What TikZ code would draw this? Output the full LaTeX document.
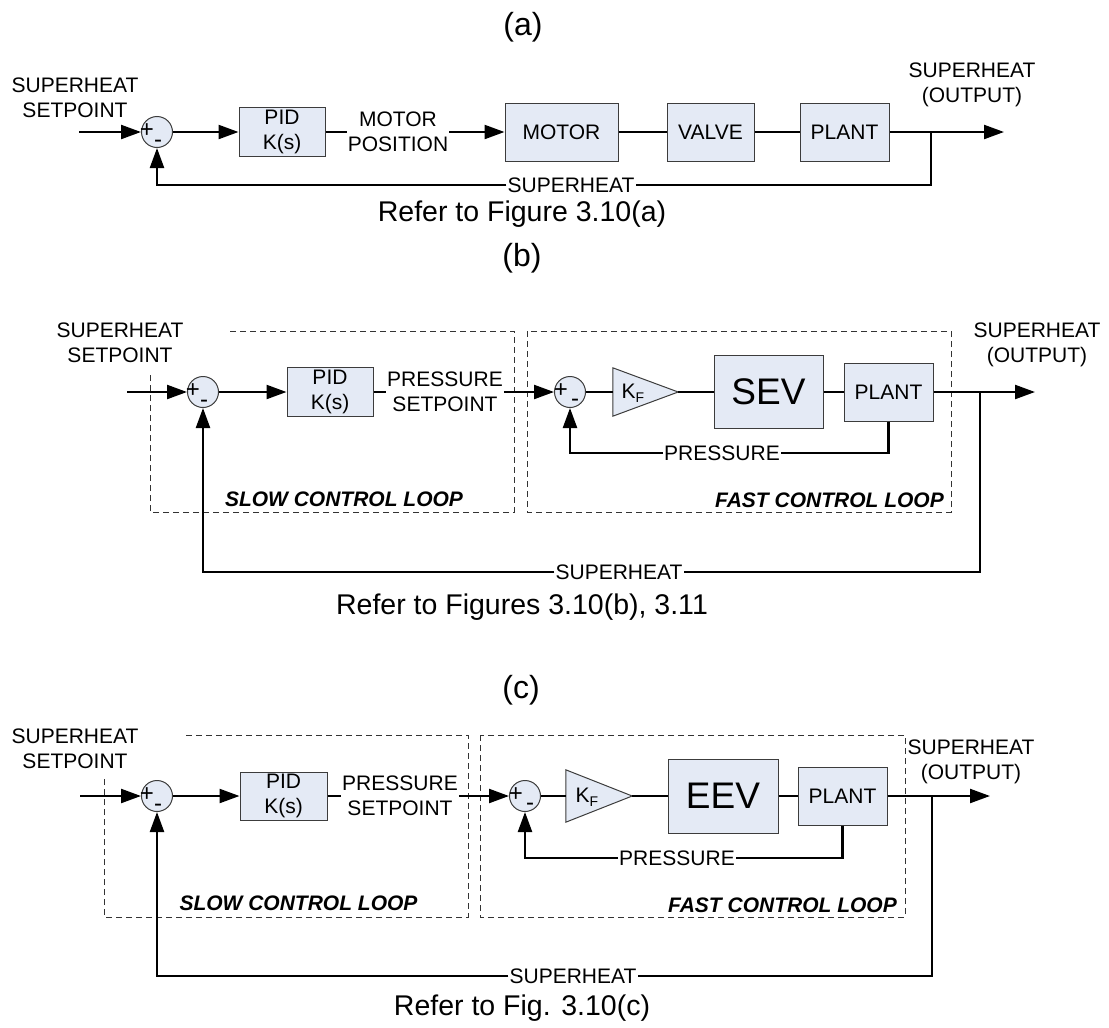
\documentclass[tikz,border=0pt]{standalone}
\usepackage{fontspec}
\setmainfont{Liberation Sans}
\usetikzlibrary{arrows.meta}
\definecolor{boxfill}{RGB}{228,234,245}
\definecolor{boxline}{RGB}{60,60,60}
\newcommand\lblfont{\fontsize{21}{25}\selectfont}
\newcommand\ttlfont{\fontsize{32}{38}\selectfont}
\newcommand\reffont{\fontsize{28.5}{34}\selectfont}
\newcommand\bigfont{\fontsize{37}{44}\selectfont}
\newcommand\loopfont{\fontsize{21}{25}\selectfont\bfseries\itshape}
\newcommand\sgnfont{\fontsize{24}{24}\selectfont}
\begin{document}
\begin{tikzpicture}[x=1pt,y=-1pt,
  sig/.style={line width=2.3pt, black},
  arr/.style={sig, -{Triangle[length=20pt,width=14pt]}},
  blk/.style={draw=boxline, line width=1pt, fill=boxfill, inner sep=0pt, align=center, font=\lblfont},
  sumc/.style={circle, draw=boxline, line width=1pt, fill=boxfill, minimum size=31pt, inner sep=0pt},
  sgn/.style={inner sep=0pt, font=\sgnfont},
  lbl/.style={inner sep=1pt, align=center, font=\lblfont},
  lab/.style={inner sep=1pt, align=center, font=\lblfont},
  title/.style={inner sep=0pt, font=\ttlfont},
  reff/.style={inner sep=0pt, font=\reffont},
  looplbl/.style={inner sep=0pt, font=\loopfont},
  dashbox/.style={draw=black!80, line width=0.9pt, dash pattern=on 6pt off 4pt},
  tri/.style={draw=boxline, line width=1pt, fill=boxfill},
  kfbox/.style={inner sep=0pt}
]
\useasboundingbox (0,0) rectangle (1109,1028);

% ================= (a) =================
\node[title] (ta) at (523,27) {(a)};
\node[lbl] (spa) at (75,97.5) {SUPERHEAT\\SETPOINT};
\coordinate (ina) at (79,132);
\node[sumc] (s1a) at (157,132) {};
\node[sgn] (p1a) at (147,131) {+};
\node[sgn] (m1a) at (158,144) {-};
\node[blk, minimum width=86pt, minimum height=49pt] (pida) at (282,132) {PID\\K(s)};
\node[lab] (mpa) at (398,132) {MOTOR\\POSITION};
\node[blk, minimum width=113pt, minimum height=58pt] (motor) at (561.5,132) {MOTOR};
\node[blk, minimum width=87pt, minimum height=58pt] (valve) at (710.5,132) {VALVE};
\node[blk, minimum width=89pt, minimum height=58pt] (planta) at (844.5,132) {PLANT};
\coordinate (outa) at (1004,132);
\coordinate (bra) at (931,132);
\node[lbl] (outla) at (972,85) {SUPERHEAT\\(OUTPUT)};
\node[lab] (fba) at (571,185) {SUPERHEAT};
\node[reff] (ra) at (522,214) {Refer to Figure 3.10(a)};

\draw[arr] (ina) -- (s1a);
\draw[arr] (s1a) -- (pida);
\draw[sig] (pida.east) -- (mpa.west);
\draw[arr] (mpa.east) -- (motor.west);
\draw[sig] (motor) -- (valve);
\draw[sig] (valve) -- (planta);
\draw[arr] (planta.east) -- (outa);
\draw[sig] (bra) |- (fba.east);
\draw[arr] (fba.west) -| (s1a.south);

% ================= (b) =================
\node[title] (tb) at (522,258) {(b)};
\draw[dashbox] (230,331) -- (514,331) -- (514,512) -- (150,512) -- (150,372);
\draw[dashbox] (527,331) rectangle (951,512);
\node[lbl] (spb) at (120,343) {SUPERHEAT\\SETPOINT};
\coordinate (inb) at (127,392);
\node[sumc] (s1b) at (203,392) {};
\node[sgn] (p1b) at (193,391) {+};
\node[sgn] (m1b) at (204,404) {-};
\node[blk, minimum width=86pt, minimum height=49pt] (pidb) at (330,392) {PID\\K(s)};
\node[lab] (psb) at (445,392) {PRESSURE\\SETPOINT};
\node[sumc] (s2b) at (570,392) {};
\node[sgn] (p2b) at (561,391) {+};
\node[sgn] (m2b) at (575,403) {-};
\node[kfbox, minimum width=65pt, minimum height=48pt] (kfb) at (645.5,392) {};
\draw[tri] (kfb.north west) -- (kfb.east) -- (kfb.south west) -- cycle;
\node[inner sep=0pt, font=\lblfont] (kftb) at (633,393) {K\raisebox{-0.35ex}{\fontsize{14}{14}\selectfont F}};
\node[blk, minimum width=109pt, minimum height=73pt, font=\bigfont] (sev) at (768.5,392) {SEV};
\node[blk, minimum width=89pt, minimum height=58pt] (plantb) at (888.5,392) {PLANT};
\coordinate (outb) at (1035,392);
\coordinate (brb) at (980,392);
\node[lbl] (outlb) at (1037,345) {SUPERHEAT\\(OUTPUT)};
\node[lab] (prb) at (722,453) {PRESSURE};
\node[looplbl] (slb) at (344,499) {SLOW CONTROL LOOP};
\node[looplbl, anchor=east] (flb) at (944,500) {FAST CONTROL LOOP};
\node[lab] (fbb) at (619,572) {SUPERHEAT};
\node[reff] (rb) at (522,607) {Refer to Figures 3.10(b), 3.11};

\draw[arr] (inb) -- (s1b);
\draw[arr] (s1b) -- (pidb);
\draw[sig] (pidb.east) -- (psb.west);
\draw[arr] (psb.east) -- (s2b);
\draw[sig] (s2b) -- (kfb.west);
\draw[sig] (kfb.east) -- (sev.west);
\draw[sig] (sev) -- (plantb);
\draw[arr] (plantb.east) -- (outb);
\draw[sig] (plantb.south) |- (prb.east);
\draw[arr] (prb.west) -| (s2b.south);
\draw[sig] (brb) |- (fbb.east);
\draw[arr] (fbb.west) -| (s1b.south);

% ================= (c) =================
\node[title] (tc) at (521,690) {(c)};
\draw[dashbox] (186,735) -- (468,735) -- (468,917) -- (104,917) -- (104,778);
\draw[dashbox] (480,735) rectangle (905,917);
\node[lbl] (spc) at (75,749) {SUPERHEAT\\SETPOINT};
\coordinate (inc) at (80,796);
\node[sumc] (s1c) at (157,796) {};
\node[sgn] (p1c) at (147,795) {+};
\node[sgn] (m1c) at (158,808) {-};
\node[blk, minimum width=87pt, minimum height=48pt] (pidc) at (283.5,796) {PID\\K(s)};
\node[lab] (psc) at (400,796) {PRESSURE\\SETPOINT};
\node[sumc] (s2c) at (525,796) {};
\node[sgn] (p2c) at (516,795) {+};
\node[sgn] (m2c) at (530,807) {-};
\node[kfbox, minimum width=66pt, minimum height=52pt] (kfc) at (599,796) {};
\draw[tri] (kfc.north west) -- (kfc.east) -- (kfc.south west) -- cycle;
\node[inner sep=0pt, font=\lblfont] (kftc) at (587,797) {K\raisebox{-0.35ex}{\fontsize{14}{14}\selectfont F}};
\node[blk, minimum width=110pt, minimum height=74pt, font=\bigfont] (eev) at (723,796) {EEV};
\node[blk, minimum width=89pt, minimum height=58pt] (plantc) at (842.5,796) {PLANT};
\coordinate (outc) at (990,796);
\coordinate (brc) at (932,796);
\node[lbl] (outlc) at (971,762) {SUPERHEAT\\(OUTPUT)};
\node[lab] (prc) at (677,858) {PRESSURE};
\node[looplbl] (slc) at (298.5,903) {SLOW CONTROL LOOP};
\node[looplbl, anchor=east] (flc) at (897,905) {FAST CONTROL LOOP};
\node[lab] (fbc) at (573,976) {SUPERHEAT};
\node[reff] (rc) at (522,1008) {Refer to Fig. 3.10(c)};

\draw[arr] (inc) -- (s1c);
\draw[arr] (s1c) -- (pidc);
\draw[sig] (pidc.east) -- (psc.west);
\draw[arr] (psc.east) -- (s2c);
\draw[sig] (s2c) -- (kfc.west);
\draw[sig] (kfc.east) -- (eev.west);
\draw[sig] (eev) -- (plantc);
\draw[arr] (plantc.east) -- (outc);
\draw[sig] (plantc.south) |- (prc.east);
\draw[arr] (prc.west) -| (s2c.south);
\draw[sig] (brc) |- (fbc.east);
\draw[arr] (fbc.west) -| (s1c.south);
\end{tikzpicture}
\end{document}
